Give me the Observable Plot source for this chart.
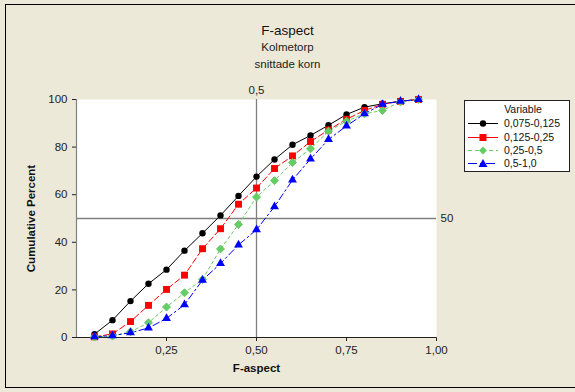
<!DOCTYPE html>
<html>
<head>
<meta charset="utf-8">
<script src="https://cdn.jsdelivr.net/npm/d3@7"></script>
<script src="https://cdn.jsdelivr.net/npm/@observablehq/plot@0.6"></script>
<style>
  html, body { margin: 0; padding: 0; background: #ECE9D8; }
  #wrap { position: relative; width: 575px; height: 392px; overflow: hidden; background: #ECE9D8; font-family: "Liberation Sans", Arial, sans-serif; }
  #border { position: absolute; left: 5px; top: 4px; width: 600px; height: 384px; border: 1.5px solid #000; box-sizing: border-box; }
  .t { position: absolute; left: 0; width: 575px; text-align: center; color: #111; }
  #chart { position: absolute; left: 0; top: 0; }
  #legend { position: absolute; left: 464px; top: 100px; width: 106px; height: 72px; background: #fff; border: 1px solid #222; box-sizing: border-box; font-size: 10.5px; color: #111; }
  #legend .head { position: absolute; left: 0; width: 100%; top: 2px; text-align: center; padding-left: 12px; box-sizing: border-box; }
  #legend .row { position: absolute; left: 2px; height: 13px; }
  #legend .row svg { position: absolute; left: 0; top: 0; }
  #legend .row span { position: absolute; left: 37px; top: 0; white-space: nowrap; line-height: 13px; }
</style>
</head>
<body>
<div id="wrap">
  <div id="border"></div>
  <div class="t" style="top:23px;font-size:13.5px;">F-aspect</div>
  <div class="t" style="top:41px;font-size:11.5px;color:#222;">Kolmetorp</div>
  <div class="t" style="top:58px;font-size:11.5px;color:#222;">snittade korn</div>
  <div id="chart"></div>
  <div id="legend"></div>
</div>
<script>
// ---- data ----
const fAspect = [0.05, 0.10, 0.15, 0.20, 0.25, 0.30, 0.35, 0.40, 0.45, 0.50, 0.55, 0.60, 0.65, 0.70, 0.75, 0.80, 0.85, 0.90, 0.95];
const seriesNames = ["0,075-0,125", "0,125-0,25", "0,25-0,5", "0,5-1,0"];
const s075_125 = [1.4, 7.3, 15.3, 22.6, 28.5, 36.5, 43.8, 51.3, 59.5, 67.6, 74.8, 81.0, 84.9, 89.2, 93.7, 96.8, 98.2, 99.3, 100];
const s125_25  = [0.3, 1.5, 6.7, 13.5, 20.2, 26.2, 37.3, 45.7, 56.0, 62.8, 71.0, 76.3, 82.3, 87.2, 91.7, 95.4, 98.0, 99.2, 100];
const s25_5    = [0.2, 0.6, 2.4, 6.2, 12.8, 18.8, 24.4, 37.2, 47.5, 59.0, 65.9, 73.5, 79.3, 86.7, 90.9, 94.0, 95.4, 99.0, 100];
const s5_10    = [0.3, 0.8, 2.0, 4.0, 8.0, 13.8, 24.1, 31.1, 38.9, 45.3, 55.0, 66.2, 75.0, 83.2, 88.9, 94.0, 98.0, 99.3, 100];
const xTicks = [0.25, 0.5, 0.75, 1.0];
const xTickLabels = ["0,25", "0,50", "0,75", "1,00"];
const yTicks = [0, 20, 40, 60, 80, 100];
const refX = 0.5, refXLabel = "0,5";
const refY = 50, refYLabel = "50";

// ---- styles ----
const styles = [
  {color: "#000000", dash: null, symbol: "circle", r: 3.2},
  {color: "#FF0000", dash: "6,3", symbol: "square", r: 3.9},
  {color: "#66CC66", dash: "3,3", symbol: "diamond2", r: 3.6},
  {color: "#0000FF", dash: "7,3,2,3", symbol: "triangle", r: 3.3}
];

const allSeries = [s075_125, s125_25, s25_5, s5_10];
const table = [];
allSeries.forEach((vals, i) => vals.forEach((v, j) => table.push({x: fAspect[j], y: v, series: seriesNames[i]})));

const marks = [
  Plot.frame({fill: "white", stroke: null}),
  Plot.ruleX([refX], {stroke: "#7f7f7f", strokeWidth: 1.3}),
  Plot.ruleY([refY], {stroke: "#7f7f7f", strokeWidth: 1.3}),
  Plot.text([refX], {x: d => d, frameAnchor: "top", lineAnchor: "bottom", dy: -6, text: () => refXLabel, fontSize: 11.5, fill: "#222"}),
  Plot.text([refY], {y: d => d, frameAnchor: "right", dx: 4, textAnchor: "start", text: () => refYLabel, fontSize: 11.5, fill: "#222"}),
  Plot.ruleX([0], {stroke: "#808080", strokeWidth: 1.2}),
  Plot.ruleY([0], {stroke: "#222", strokeWidth: 1.2}),
];
seriesNames.forEach((name, i) => {
  const st = styles[i];
  const data = table.filter(d => d.series === name);
  marks.push(Plot.line(data, {x: "x", y: "y", stroke: st.color, strokeWidth: 1, strokeDasharray: st.dash}));
});
seriesNames.forEach((name, i) => {
  const st = styles[i];
  const data = table.filter(d => d.series === name);
  marks.push(Plot.dot(data, {x: "x", y: "y", symbol: () => st.symbol, r: st.r, fill: st.color, stroke: st.color, strokeWidth: st.symbol === "diamond2" ? 1 : 0}));
});

const chart = Plot.plot({
  width: 575,
  height: 392,
  marginLeft: 76,
  marginRight: 139,
  marginTop: 99,
  marginBottom: 55,
  style: {background: "transparent", fontFamily: "'Liberation Sans', Arial, sans-serif", fontSize: "11.5px", color: "#222"},
  x: {domain: [0, 1], ticks: xTicks, tickFormat: (d, i) => xTickLabels[xTicks.indexOf(d)], tickSize: 4, tickPadding: 4, label: "F-aspect", labelAnchor: "center", labelArrow: "none", labelOffset: 34},
  y: {domain: [0, 100], ticks: yTicks, tickSize: 4, tickPadding: 5, label: "Cumulative Percent", labelAnchor: "center", labelArrow: "none", labelOffset: 50},
  symbol: {type: "identity"},
  marks
});
chart.querySelectorAll("g[aria-label='x-axis label'] text, g[aria-label='y-axis label'] text").forEach(t => { t.setAttribute("font-weight", "bold"); t.setAttribute("font-size", "11.5"); t.setAttribute("fill", "#111"); });
chart.querySelectorAll("g[aria-label='x-axis tick'], g[aria-label='y-axis tick']").forEach(g => g.setAttribute("stroke", "#222"));
document.getElementById("chart").appendChild(chart);

// ---- legend ----
const legend = document.getElementById("legend");
const head = document.createElement("div");
head.className = "head"; head.textContent = "Variable";
legend.appendChild(head);
const rowTops = [16, 30, 43, 56];
const symPaths = {
  circle: '<circle cx="16" cy="6.5" r="3.2"/>',
  square: '<rect x="12.5" y="3" width="7" height="7"/>',
  diamond2: '<path d="M16,2.5 L20,6.5 L16,10.5 L12,6.5Z"/>',
  triangle: '<path d="M16,2 L20.5,10 L11.5,10Z"/>'
};
seriesNames.forEach((name, i) => {
  const st = styles[i];
  const row = document.createElement("div");
  row.className = "row"; row.style.top = rowTops[i] + "px";
  const dash = i === 0 || i === 1 ? "" : (i === 2 ? 'stroke-dasharray="4,3"' : 'stroke-dasharray="9,3,3,3"');
  row.innerHTML = `<svg width="34" height="13"><line x1="1" y1="6.5" x2="31" y2="6.5" stroke="${st.color}" stroke-width="1" ${dash}/><g fill="${st.color}">${symPaths[st.symbol]}</g></svg><span>${name}</span>`;
  legend.appendChild(row);
});
</script>
</body>
</html>
